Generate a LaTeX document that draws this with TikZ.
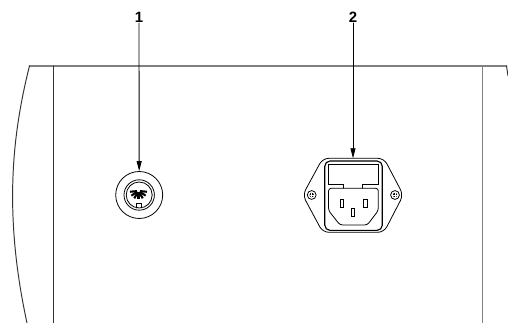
\documentclass[tikz,border=0pt]{standalone}
\usepackage{fontspec}
\setmainfont{Liberation Sans}
\usetikzlibrary{arrows.meta,positioning,calc}

\begin{document}
\begin{tikzpicture}
[x=0.02cm,y=-0.02cm,line cap=round,
% Styles
panel line/.style={line width=0.55pt,black!80},
edge line/.style={line width=1pt,black!50},
part line/.style={line width=0.45pt,black},
number/.style={font=\bfseries\fontsize{8.5}{10}\selectfont,inner sep=0pt},
pointer/.style={line width=0.5pt,-{Stealth[length=2mm,width=1mm,inset=0pt]}}]
\useasboundingbox (0,0) rectangle (508,323);
% The housing
\draw[edge line] (29.5,65.8) -- (506.5,65.8);
\draw[panel line] (29.5,65.8) .. controls (14,128) and (2,208) .. (27,323);
\draw[panel line] (53,65.8) -- (53,323);
\draw[edge line,line width=0.8pt] (482.7,65.8) -- (482.7,323);
\draw[panel line] (506.5,65.8) -- (508,76);
% Round socket
\node[circle,draw,part line,minimum size=0.94cm,inner sep=0pt] (din outer) at (139.2,195) {};
\draw[part line] (din outer.center) circle (15.2);
\draw[part line] (din outer.center) circle (13);
\draw[part line] (136.6,208) -- (136.6,203.2) -- (141.8,203.2) -- (141.8,208);
\foreach \a in {5,33,60,90,120,147,175}
\draw[line width=1.2pt,line cap=butt] ($(138.5,191)+(\a:-1.5 and 1.5)$) -- ($(138.5,191)+(\a:-8.5 and 8.5)$);
% Mains inlet
\draw[part line,rounded corners=3.5] (302.7,195) -- (322.7,158.3) -- (384,158.3) -- (403.3,195)
-- (384,232.3) -- (322.7,232.3) -- cycle;
\coordinate (inlet top) at (353,158.3);
\draw[part line,line width=0.65pt,rounded corners=3] (324.8,161) rectangle (382.3,230.4);
\draw[part line] (343.8,188.3) -- (343.8,184.2) -- (328.5,184.2) -- (328.5,164.4) -- (378.3,164.4)
-- (378.3,184.2) -- (362.7,184.2) -- (362.7,188.3);
\draw[part line,rounded corners=1.5] (328.5,188.3) -- (378.3,188.3) -- (378.3,210.5) -- (367.3,225)
-- (340,225) -- (328.5,210.5) -- cycle;
\foreach \x/\y in {340/199,363.3/199,351/208.3}
\draw[part line] (\x,\y) rectangle ++(3.8,8.3);
\foreach \x in {311.7,395}
{
\draw[part line] (\x,195) circle (4.4);
\fill (\x,195) circle (2.2);
\draw[white,line width=0.3pt,line cap=butt] (\x-2.2,195) -- (\x+2.2,195) (\x,192.8) -- (\x,197.2);
}
% The numbers
\node[number] (num one) at (139,17.5) {1};
\node[number] (num two) at (353,17.5) {2};
\draw[pointer] (num one) -- (din outer);
\draw[pointer] (num two) -- (inlet top);
\end{tikzpicture}
\end{document}
